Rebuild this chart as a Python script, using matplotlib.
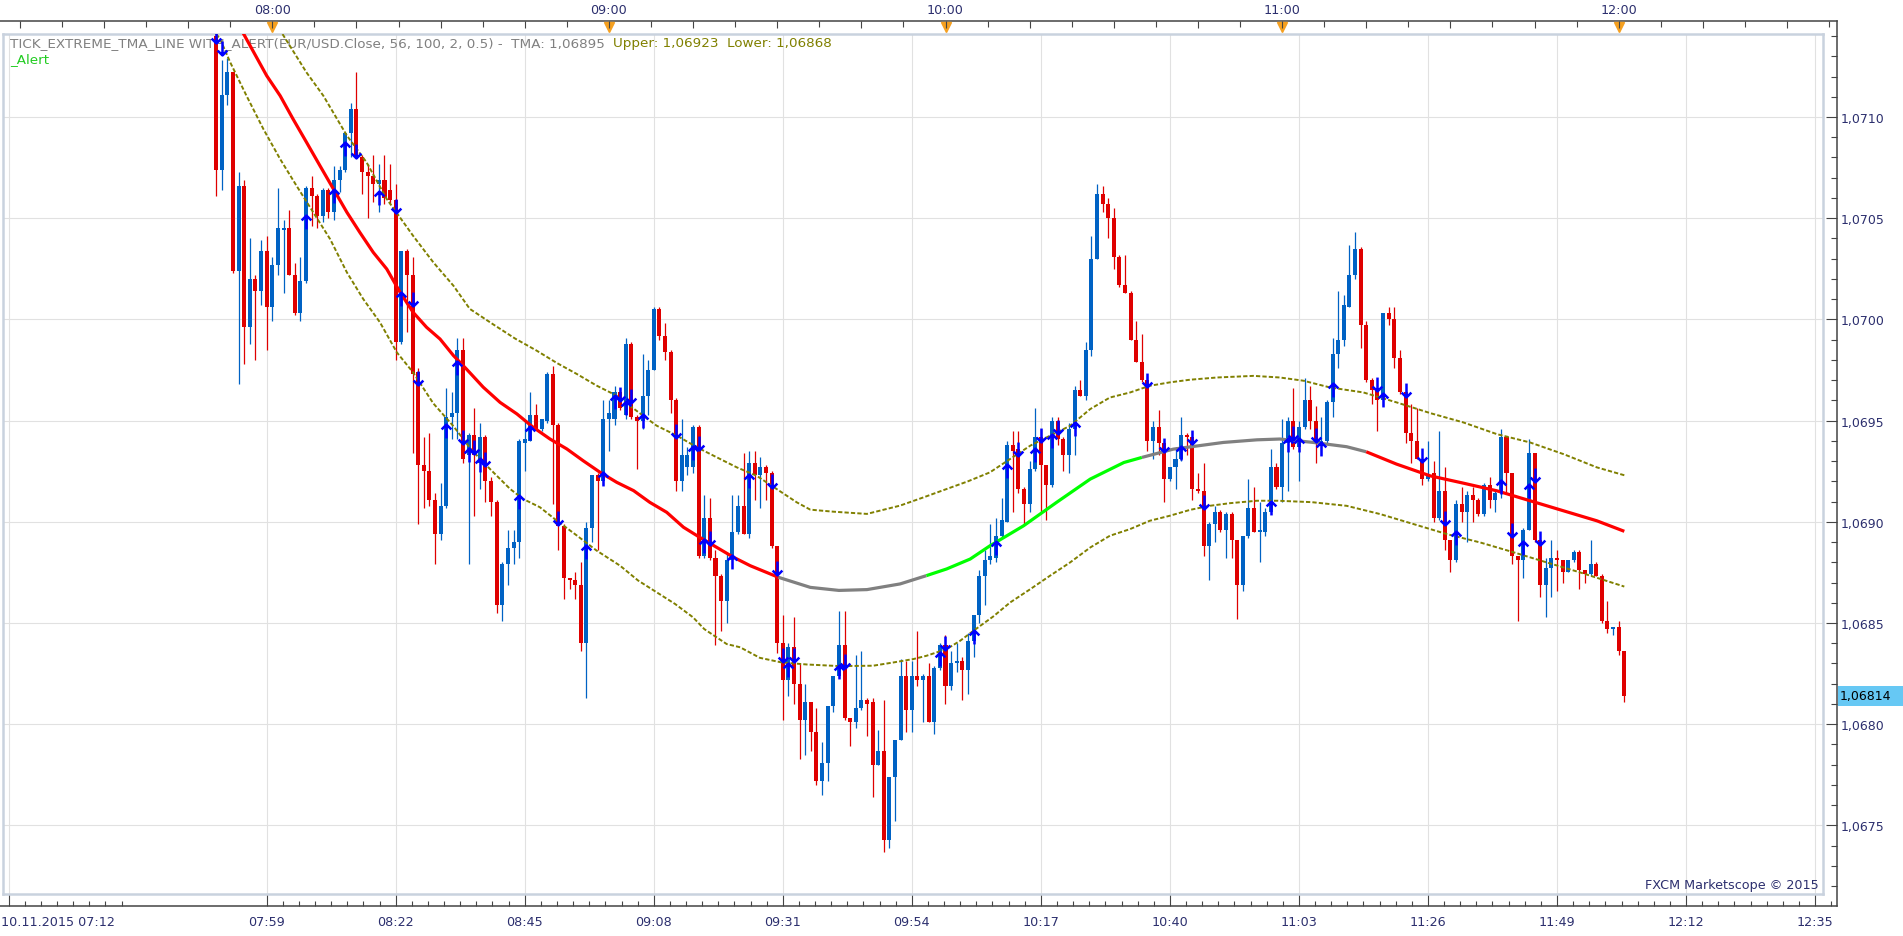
import numpy as np
import matplotlib
matplotlib.use("Agg")
import matplotlib.pyplot as plt
from matplotlib.path import Path
from matplotlib.patches import Rectangle
from matplotlib.transforms import blended_transform_factory as blend
from matplotlib.ticker import FixedLocator, FuncFormatter

plt.rcParams['font.family'] = ['DejaVu Sans']

# ---------------------------------------------------------------- data
POINT = 1e-5
first_bar = -10          # first candle = 07:50 (bars counted in minutes from 08:00)

open_pts = [107140,107074,107111,107122,107024,107066,106996,107020,107014,107034,
            107006,107027,107044,107045,107022,107003,107019,107065,107061,107051,
            107064,107053,107069,107074,107092,107104,107080,107073,107071,107067,
            107069,107064,107059,106989,107034,107022,106974,106928,106925,106911,
            106894,106908,106952,106954,106985,106933,106943,106929,106942,106920,
            106910,106859,106879,106887,106890,106939,106940,106953,106946,106950,
            106973,106948,106898,106872,106871,106869,106840,106897,106923,106920,
            106951,106951,106964,106953,106988,106952,106950,106962,106975,107005,
            106992,106984,106960,106920,106927,106927,106947,106883,106902,106882,
            106873,106861,106881,106895,106908,106894,106929,106923,106927,106924,
            106888,106840,106822,106838,106820,106802,106811,106796,106772,106781,
            106809,106824,106839,106803,106801,106808,106812,106811,106780,106787,
            106743,106774,106792,106824,106807,106824,106822,106824,106801,106828,
            106839,106819,106830,106831,106827,106841,106854,106873,106881,106882,
            106893,106900,106938,106936,106916,106909,106926,106942,106928,106918,
            106950,106941,106933,106946,106965,106962,106985,107030,107062,107057,
            107050,107031,107017,107013,106990,106979,106970,106940,106947,106939,
            106921,106927,106931,106943,106942,106916,106915,106888,106899,106905,
            106896,106904,106891,106869,106893,106907,106895,106895,106905,106927,
            106917,106939,106950,106937,106947,106960,106950,106939,106940,106959,
            106983,106990,107006,107022,107035,106997,106970,106965,106960,107003,
            107000,106981,106964,106944,106940,106931,106921,106924,106902,106915,
            106891,106881,106909,106905,106913,106911,106904,106918,106911,106914,
            106942,106924,106883,106881,106896,106934,106891,106869,106877,106882,
            106881,106875,106881,106885,106876,106874,106879,106873,106851,106847,
            106848,106836]
high_pts = [107145,107128,107129,107122,107073,107069,107040,107022,107039,107041,
            107031,107065,107049,107054,107028,107031,107066,107071,107062,107065,
            107065,107076,107076,107092,107107,107122,107081,107077,107081,107077,
            107081,107077,107067,107034,107035,107031,106976,106942,106944,106914,
            106919,106966,106964,106991,106991,106944,106956,106949,106943,106922,
            106911,106880,106896,106896,106941,106950,106964,106958,106951,106974,
            106977,106949,106899,106872,106875,106880,106900,106923,106924,106960,
            106960,106967,106966,106991,106989,106953,106983,106980,107006,107006,
            106998,106985,106961,106951,106937,106948,106948,106913,106912,106886,
            106874,106884,106913,106913,106934,106935,106935,106932,106928,106925,
            106888,106854,106840,106853,106830,106820,106811,106808,106791,106809,
            106824,106856,106856,106803,106834,106836,106813,106813,106797,106812,
            106774,106792,106832,106831,106831,106846,106825,106830,106829,106840,
            106844,106836,106840,106833,106845,106854,106876,106886,106899,106902,
            106912,106940,106945,106945,106917,106930,106956,106946,106928,106952,
            106952,106942,106949,106967,106970,106989,107041,107067,107066,107060,
            107055,107032,107032,107014,106999,106993,106972,106950,106955,106940,
            106927,106937,106952,106944,106945,106924,106929,106900,106908,106906,
            106905,106905,106891,106893,106921,106917,106910,106907,106936,106929,
            106951,106952,106966,106950,106971,106967,106957,106952,106960,106991,
            107014,107012,107037,107043,107036,106999,106971,106966,107003,107006,
            107006,106985,106965,106958,106956,106932,106940,106930,106945,106927,
            106891,106911,106917,106915,106917,106912,106919,106922,106916,106946,
            106942,106924,106883,106897,106941,106934,106891,106882,106891,106886,
            106881,106881,106886,106886,106876,106891,106880,106874,106861,106848,
            106851,106836]
low_pts = [107061,107064,107106,107023,106968,106978,106988,106980,107007,106985,
           106999,107022,107013,107022,107002,106999,107018,107046,107045,107048,
           107050,107049,107063,107073,107080,107080,107062,107050,107058,107053,
           107057,107057,106980,106988,106994,106934,106899,106907,106908,106879,
           106891,106907,106941,106941,106929,106879,106903,106916,106910,106903,
           106855,106851,106869,106879,106882,106925,106940,106946,106945,106949,
           106909,106886,106862,106867,106862,106836,106813,106890,106886,106918,
           106935,106948,106955,106951,106951,106926,106946,106953,106975,106990,
           106980,106954,106915,106915,106923,106924,106882,106882,106881,106839,
           106846,106850,106877,106894,106894,106892,106911,106907,106911,106887,
           106835,106802,106814,106810,106783,106785,106787,106770,106765,106772,
           106806,106823,106802,106789,106798,106807,106794,106764,106780,106737,
           106739,106752,106792,106796,106796,106819,106801,106801,106795,106827,
           106810,106817,106826,106812,106815,106833,106850,106859,106879,106880,
           106892,106900,106905,106914,106899,106905,106925,106905,106901,106917,
           106938,106925,106924,106933,106962,106960,106982,107030,107053,107040,
           107025,107016,107013,106990,106979,106969,106935,106931,106933,106910,
           106920,106916,106930,106933,106911,106914,106883,106871,106890,106895,
           106882,106882,106852,106866,106892,106895,106880,106893,106905,106916,
           106910,106915,106936,106920,106946,106946,106929,106933,106939,106952,
           106976,106987,107006,107020,106986,106969,106958,106945,106957,106997,
           106976,106963,106939,106929,106931,106918,106920,106900,106901,106886,
           106875,106880,106900,106890,106900,106903,106903,106907,106905,106912,
           106914,106879,106851,106872,106896,106890,106863,106853,106863,106866,
           106870,106875,106880,106867,106870,106873,106873,106850,106845,106844,
           106834,106811]
close_pts = [107074,107111,107122,107024,107066,106996,107020,107014,107034,107006,
             107027,107045,107045,107022,107003,107019,107065,107061,107051,107064,
             107053,107069,107074,107092,107104,107080,107073,107071,107067,107069,
             107060,107059,106989,107034,107022,106973,106928,106925,106911,106894,
             106908,106952,106954,106985,106931,106943,106933,106942,106920,106910,
             106859,106879,106887,106890,106940,106941,106953,106946,106951,106973,
             106948,106898,106872,106871,106869,106840,106897,106923,106920,106951,
             106954,106964,106956,106988,106952,106950,106962,106975,107005,106992,
             106984,106960,106920,106933,106933,106947,106883,106902,106882,106873,
             106861,106881,106895,106908,106894,106929,106923,106927,106924,106888,
             106840,106822,106838,106820,106802,106811,106796,106772,106781,106809,
             106824,106839,106803,106801,106808,106812,106810,106780,106787,106743,
             106774,106792,106824,106807,106824,106822,106824,106801,106828,106839,
             106819,106830,106831,106827,106841,106854,106873,106881,106883,106893,
             106901,106938,106935,106916,106909,106926,106942,106928,106918,106950,
             106941,106933,106946,106965,106962,106985,107030,107062,107057,107050,
             107031,107017,107013,106990,106979,106970,106940,106947,106939,106921,
             106927,106931,106943,106942,106916,106915,106888,106899,106905,106896,
             106904,106891,106869,106893,106907,106895,106896,106905,106927,106917,
             106939,106950,106937,106947,106960,106950,106940,106940,106959,106983,
             106990,107007,107022,107035,106997,106970,106965,106960,107003,107000,
             106981,106964,106944,106940,106931,106921,106923,106902,106915,106891,
             106881,106909,106905,106913,106911,106904,106918,106911,106914,106942,
             106924,106883,106881,106896,106934,106891,106869,106877,106882,106881,
             106875,106881,106885,106876,106874,106879,106873,106851,106847,106848,
             106836,106814]

# TMA centre line and its colour segments
tma_idx = [-6, -1, 1.4, 3.7, 6.1, 8.5, 10.9, 13.3, 15.6, 18, 20.4, 22.8, 25.1, 27.5,
           29.9, 32.3, 34.6, 37.6, 40.6, 43.6, 46.5, 49.5, 52.5, 55.4, 58.4, 61.4,
           64.4, 67.3, 70.3, 73.3, 76.2, 79.2, 82.2, 85.2, 88.1, 90.2, 95.9, 101,
           106, 111.9, 116.6, 120.2, 124.4, 127.9, 133.9, 139.8, 145.8, 151.8, 155,
           160.6, 169.5, 175.5, 179.6, 185.6, 191.5, 195, 200.4, 206.4, 212.3, 218.3,
           224.2, 230.2, 236.1, 241]
tma_pts = [107145.5, 107120.4, 107110.5, 107099, 107087.5, 107075.9, 107064.4,
           107052.9, 107043, 107033.1, 107024.9, 107013.3, 107003.5, 106996.1,
           106990.3, 106982.1, 106975.5, 106966.5, 106959, 106953.3, 106946.7,
           106940.9, 106936, 106930.2, 106924.5, 106919.5, 106915.4, 106909.6,
           106904.7, 106897.3, 106892.3, 106887.4, 106882.5, 106878.3, 106875,
           106872.6, 106867.6, 106866.1, 106866.5, 106869.3, 106873.4, 106876.7,
           106881.6, 106888.1, 106898, 106909.6, 106921.1, 106929.3, 106931.8,
           106935.9, 106939.2, 106940.5, 106940.9, 106939.2, 106937.1, 106934.6,
           106928.5, 106922.7, 106919.1, 106915.3, 106910.4, 106905.4, 106900.5,
           106895.3]
tma_breaks = [90.2, 116.6, 155.0, 195.0]
tma_colors = ['#ff0000', '#808080', '#00ff00', '#808080', '#ff0000']

upper_idx = [0, 1.7, 6.1, 9.1, 13.3, 16.8, 20.4, 25.1, 28.7, 32.3, 35.2, 39.4, 43.3,
             47.1, 50.7, 54.3, 57.8, 61.4, 64.9, 68.5, 72.1, 75.7, 79.2, 82.8, 86.3,
             89.9, 93.5, 95.9, 100, 106, 111.9, 116, 120, 124, 127.9, 131.5, 135.1,
             138.6, 142.2, 145.8, 149.3, 152.9, 156.4, 160, 163.6, 168.4, 174.9,
             179.6, 183.8, 188.5, 194.5, 200.4, 206.4, 212.3, 218.3, 224.2, 230.2,
             236.1, 241]
upper_pts = [107149, 107141.5, 107122, 107110.5, 107090.8, 107077.6, 107059.5,
             107041.3, 107028.2, 107016.6, 107005.2, 106997.5, 106990.5, 106984.6,
             106978.5, 106973, 106967.3, 106962.3, 106954.9, 106947.5, 106942.6,
             106936.8, 106931.9, 106926.9, 106922.8, 106916.2, 106909.6, 106906,
             106905, 106903.9, 106908, 106912, 106916, 106920, 106924.4, 106931,
             106937.6, 106942.5, 106947.4, 106955.7, 106961.4, 106963.9, 106967.2,
             106968.9, 106970.2, 106971.3, 106972.1, 106971.3, 106969.7, 106966.4,
             106963.9, 106959, 106953.7, 106949.1, 106943.3, 106939.2, 106933.4,
             106926.9, 106923]
lower_idx = [-10, -9.3, -7.5, -4.6, -1.6, 1.4, 4.3, 7.3, 10.3, 13.3, 16.2, 19.2, 22.2,
             25.1, 28.7, 32.3, 35.5, 38.8, 42.4, 44.7, 47.7, 50.7, 54.3, 57.8, 62,
             65.2, 68.5, 71.8, 75, 77, 81, 83.4, 86.9, 90.8, 95.3, 101.2, 107.1,
             110.7, 114.3, 116.6, 120.2, 122.6, 125, 128.5, 131.5, 135.1, 138.6,
             142.2, 145.8, 149.3, 152.9, 156.4, 160, 163.6, 167.1, 170.7, 175.5,
             179.3, 185.3, 191.5, 197.5, 203.4, 209.4, 215.3, 221.3, 227.2, 233.1, 241]
lower_pts = [107141, 107138.5, 107127, 107110.5, 107094.1, 107079.2, 107066.1,
             107052.9, 107039.7, 107023.2, 107010.1, 106998.5, 106983.7, 106973.8,
             106958.5, 106947.2, 106935.5, 106926.1, 106916.2, 106911.3, 106907.2,
             106900.6, 106893.2, 106885.8, 106878.3, 106871, 106865.2, 106859.4,
             106852.8, 106847, 106839.6, 106838, 106832.8, 106830.5, 106829.5,
             106828.7, 106828.9, 106830.5, 106832.2, 106833.8, 106837.1, 106841.2,
             106846.2, 106853.2, 106860.1, 106866.7, 106873.3, 106879.9, 106887.3,
             106893.1, 106896.4, 106900.5, 106903, 106905.9, 106907.9, 106909.2,
             106910.4, 106910.4, 106909.7, 106907.9, 106903.8, 106898.9, 106893.9,
             106889.8, 106884.9, 106879.9, 106875, 106868]

# alert arrows
up_arrow_idx = [6, 11, 13, 19, 23, 31, 33, 35, 37, 44, 46, 56, 59, 61, 63, 66, 75, 77,
                82, 85, 92, 101, 119, 125, 129, 131, 136, 139, 143, 162, 178, 181,
                183, 187, 189, 198, 211, 219, 223, 224]
up_arrow_pts = [107048, 107061, 107084, 107060, 107010, 106945, 106976, 106933,
                106928, 106910, 106944, 106885, 106921, 106959, 106956, 106950,
                106934, 106888, 106880, 106920, 106827, 106826, 106832, 106843,
                106887, 106925, 106933, 106940, 106946, 106934, 106907, 106938,
                106938, 106936, 106965, 106960, 106892, 106917, 106887, 106915]
down_arrow_idx = [-10, -9, 15, 22, 25, 26, 34, 36, 38, 51, 62, 64, 72, 76, 78, 89, 90,
                  91, 93, 102, 120, 133, 137, 140, 156, 159, 164, 166, 182, 186, 197,
                  202, 205, 209, 221, 225, 226]
down_arrow_pts = [107140, 107134, 107083, 107056, 107010, 106971, 106942, 106937,
                  106931, 106902, 106963, 106962, 106945, 106939, 106892, 106920,
                  106877, 106834, 106834, 106831, 106840, 106936, 106943, 106947,
                  106970, 106938, 106942, 106910, 106944, 106943, 106968, 106965,
                  106933, 106902, 106896, 106923, 106892]

hour_labels = ['08:00', '09:00', '10:00', '11:00', '12:00']
hour_bars = [0, 60, 120, 180, 240]
bottom_labels = ['10.11.2015 07:12', '07:59', '08:22', '08:45', '09:08', '09:31',
                 '09:54', '10:17', '10:40', '11:03', '11:26', '11:49', '12:12', '12:35']
bottom_bars = [-47, -1, 22, 45, 68, 91, 114, 137, 160, 183, 206, 229, 252, 275]
price_levels = [1.0675, 1.0680, 1.0685, 1.0690, 1.0695, 1.0700, 1.0705, 1.0710]
last_price = 1.06814
legend_title = 'TICK_EXTREME_TMA_LINE WITH_ALERT(EUR/USD.Close, 56, 100, 2, 0.5) -  TMA: 1,06895'
legend_upper = 'Upper: 1,06923'
legend_lower = 'Lower: 1,06868'

# ---------------------------------------------------------------- geometry
W, H = 1903, 937
BAR_PX, BAR0_PX = 5.61, 272.3
Y0_PX, Y0_PRICE, PX_PER_PRICE = 118.0, 1.0710, 101.2 / 0.0005

def bx(px):
    return (px - BAR0_PX) / BAR_PX

def py(px):
    return Y0_PRICE - (px - Y0_PX) / PX_PER_PRICE

BLUE, RED = '#0062c4', '#df0000'
NAVY = '#2c2f6e'
FS = 9.2

fig = plt.figure(figsize=(W / 100, H / 100), dpi=100)
fig.patch.set_facecolor('white')

# outer axis box (ticks / labels)
OL, OR, OT, OB = 0, 1837, 22, 907
ax2 = fig.add_axes([OL / W, 1 - OB / H, (OR - OL) / W, (OB - OT) / H], zorder=1)
ax2.set_xlim(bx(OL), bx(OR))
ax2.set_ylim(py(OB), py(OT))
ax2.spines['left'].set_visible(False)
for s in ['top', 'right', 'bottom']:
    ax2.spines[s].set_color('#444444')
    ax2.spines[s].set_linewidth(1.1)

def fy(ypx):
    return (OB - ypx) / (OB - OT)

bottom_minor = np.concatenate([b + np.arange(1, 8) * 23 / 8 for b in bottom_bars])
ax2.xaxis.set_major_locator(FixedLocator(bottom_bars))
ax2.xaxis.set_minor_locator(FixedLocator(bottom_minor[bottom_minor < bx(OR)]))
ax2.tick_params(axis='x', which='major', direction='in', length=8.6, width=0.8,
                color='#444444', labelbottom=False, top=False)
ax2.tick_params(axis='x', which='minor', direction='in', length=3.6, width=0.8,
                color='#444444', top=False)

ax3 = ax2.twiny()
ax3.set_xlim(ax2.get_xlim())
for s in ax3.spines.values():
    s.set_visible(False)
ax3.xaxis.set_major_locator(FixedLocator(np.arange(-45, bx(OR), 15)))
ax3.xaxis.set_minor_locator(FixedLocator(np.arange(-37.5, bx(OR), 15)))
ax3.tick_params(axis='x', which='both', direction='in', length=4, width=0.8,
                color='#444444', top=True, bottom=False, labeltop=False, labelbottom=False)
ax3.tick_params(axis='x', which='major', length=5)
ax3.tick_params(axis='y', which='both', left=False, right=False,
                labelleft=False, labelright=False)

ax2.yaxis.tick_right()
ax2.yaxis.set_major_locator(FixedLocator(price_levels))
ax2.yaxis.set_minor_locator(FixedLocator(np.arange(1.0671, 1.07145, 0.0001)))
ax2.yaxis.set_major_formatter(FuncFormatter(lambda v, p: f'{v:.4f}'.replace('.', ',')))
ax2.tick_params(axis='y', which='major', direction='in', length=8, width=0.8,
                color='#444444', labelsize=9, labelcolor=NAVY, pad=2.5,
                left=False, right=True, labelleft=False, labelright=True)
ax2.tick_params(axis='y', which='minor', direction='in', length=4, width=0.8,
                color='#444444', left=False, right=True)

tb = blend(ax2.transData, ax2.transAxes)
ax2.plot(hour_bars, [fy(27.5)] * len(hour_bars), transform=tb, ls='none', marker='v',
         ms=7.5, mfc='#f5a020', mec='#f5a020', clip_on=False, zorder=5)
for b, lbl in zip(hour_bars, hour_labels):
    ax2.text(b, fy(10), lbl, transform=tb, ha='center', va='center', fontsize=FS, color=NAVY)
for b, lbl in zip(bottom_bars, bottom_labels):
    if b == bottom_bars[0]:
        ax2.text(bx(1), fy(923), lbl, transform=tb, ha='left', va='center', fontsize=FS, color=NAVY)
    else:
        ax2.text(b, fy(923), lbl, transform=tb, ha='center', va='center', fontsize=FS, color=NAVY)

# current price tag
bt = blend(fig.transFigure, ax2.transData)
half = 9.7 / PX_PER_PRICE
ax2.add_patch(Rectangle((1838 / W, last_price - half), 65 / W, 2 * half, transform=bt,
                        facecolor='#66c8f4', edgecolor='none', clip_on=False, zorder=6))
ax2.text(1840 / W, last_price, f'{last_price:.5f}'.replace('.', ','), transform=bt,
         ha='left', va='center', fontsize=9, color='black', zorder=7)

# main price area
FL, FR, FT, FB = 3, 1823, 35, 895
ax = fig.add_axes([FL / W, 1 - FB / H, (FR - FL) / W, (FB - FT) / H], zorder=2)
ax.set_xlim(bx(FL), bx(FR))
ax.set_ylim(py(FB), py(FT))
ax.set_facecolor('white')
ax.set_xticks(bottom_bars)
ax.set_yticks(price_levels)
ax.grid(True, color='#e1e1e1', lw=0.8)
ax.set_axisbelow(True)
ax.tick_params(length=0, labelbottom=False, labelleft=False)
for s in ax.spines.values():
    s.set_color('#c9d2de')
    s.set_linewidth(1.8)

# legend text (under the candles)
t1 = ax.text(10 / W, 1 - 44 / H, legend_title, transform=fig.transFigure, fontsize=9.7,
             color='#808080', ha='left', va='center', zorder=1)
t2 = ax.annotate(legend_upper, xy=(1, 0.5), xycoords=t1, xytext=(6, 0),
                 textcoords='offset points', fontsize=9.7, color='#808000',
                 ha='left', va='center', zorder=1)
ax.annotate(legend_lower, xy=(1, 0.5), xycoords=t2, xytext=(6, 0),
            textcoords='offset points', fontsize=9.7, color='#808000',
            ha='left', va='center', zorder=1)
ax.text(10 / W, 1 - 59.5 / H, '_Alert', transform=fig.transFigure, fontsize=9.7,
        color='#22cc22', ha='left', va='center', zorder=1)
ax.text(1 - 4 / (FR - FL), (FB - 886) / (FB - FT), 'FXCM Marketscope © 2015',
        transform=ax.transAxes, ha='right', va='center', fontsize=FS, color=NAVY, zorder=1)

# candles
o = np.array(open_pts) * POINT
h = np.array(high_pts) * POINT
l = np.array(low_pts) * POINT
c = np.array(close_pts) * POINT
idx = np.arange(len(o)) + first_bar
cols = np.where(c >= o, BLUE, RED)
ax.vlines(idx, l, h, colors=cols, lw=0.9, zorder=3)
ax.bar(idx, np.maximum(np.abs(c - o), 0.8 * POINT), bottom=np.minimum(o, c), width=0.72,
       color=cols, lw=0, zorder=4)

# bands
ax.plot(upper_idx, np.array(upper_pts) * POINT, color='#808000', lw=1.4,
        dashes=(2.2, 1.1), zorder=5)
ax.plot(lower_idx, np.array(lower_pts) * POINT, color='#808000', lw=1.4,
        dashes=(2.2, 1.1), zorder=5)

# TMA line in coloured segments
tx = np.array(tma_idx)
ty = np.array(tma_pts) * POINT
bounds = [-np.inf] + tma_breaks + [np.inf]
for k, col in enumerate(tma_colors):
    m = (tx >= bounds[k]) & (tx <= bounds[k + 1])
    ax.plot(tx[m], ty[m], color=col, lw=2.3, solid_capstyle='butt', zorder=5)

# arrows
up_path = Path([(0, -1), (0, 1), (-0.7, 0.3), (0, 1), (0.7, 0.3)],
               [Path.MOVETO, Path.LINETO, Path.MOVETO, Path.LINETO, Path.LINETO])
down_path = Path([(0, 1), (0, -1), (-0.7, -0.3), (0, -1), (0.7, -0.3)],
                 [Path.MOVETO, Path.LINETO, Path.MOVETO, Path.LINETO, Path.LINETO])
ax.plot(up_arrow_idx, np.array(up_arrow_pts) * POINT, ls='none', marker=up_path, ms=10,
        mew=1.8, mec='#0000ff', mfc='none', zorder=6)
ax.plot(down_arrow_idx, np.array(down_arrow_pts) * POINT, ls='none', marker=down_path,
        ms=10, mew=1.8, mec='#0000ff', mfc='none', zorder=6)

fig.savefig('out.png', dpi=100, facecolor='white')
